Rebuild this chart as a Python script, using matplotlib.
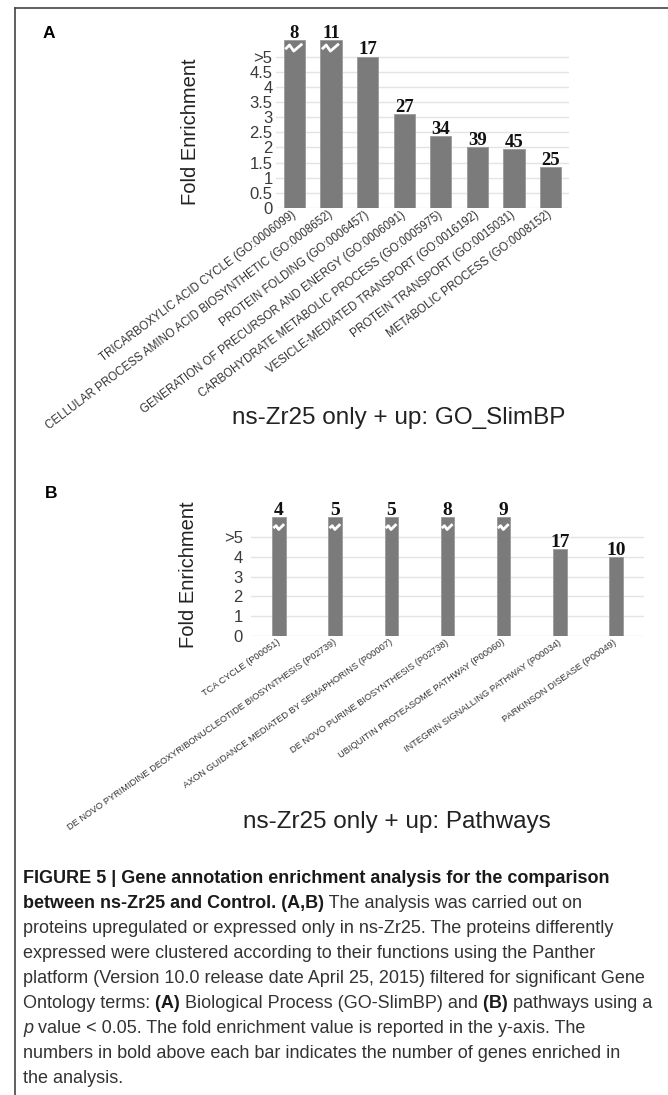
import matplotlib
matplotlib.use("Agg")
import matplotlib.pyplot as plt
from matplotlib.lines import Line2D

# ---- data ----
go_terms = [
    "TRICARBOXYLIC ACID CYCLE (GO:0006099)",
    "CELLULAR PROCESS AMINO ACID BIOSYNTHETIC (GO:0008652)",
    "PROTEIN FOLDING (GO:0006457)",
    "GENERATION OF PRECURSOR AND ENERGY (GO:0006091)",
    "CARBOHYDRATE METABOLIC PROCESS (GO:0005975)",
    "VESICLE-MEDIATED TRANSPORT (GO:0016192)",
    "PROTEIN TRANSPORT (GO:0015031)",
    "METABOLIC PROCESS (GO:0008152)",
]
go_fold = [5.55, 5.55, 5.0, 3.1, 2.38, 2.02, 1.95, 1.34]
go_genes = [8, 11, 17, 27, 34, 39, 45, 25]
go_broken = [True, True, False, False, False, False, False, False]
go_ticks = [0, 0.5, 1, 1.5, 2, 2.5, 3, 3.5, 4, 4.5, 5]
go_ticklabels = ["0", "0.5", "1", "1.5", "2", "2.5", "3", "3.5", "4", "4.5", ">5"]

pw_terms = [
    "TCA CYCLE (P00051)",
    "DE NOVO PYRIMIDINE DEOXYRIBONUCLEOTIDE BIOSYNTHESIS (P02739)",
    "AXON GUIDANCE MEDIATED BY SEMAPHORINS (P00007)",
    "DE NOVO PURINE BIOSYNTHESIS (P02738)",
    "UBIQUITIN PROTEASOME PATHWAY (P00060)",
    "INTEGRIN SIGNALLING PATHWAY (P00034)",
    "PARKINSON DISEASE (P00049)",
]
pw_fold = [6.0, 6.0, 6.0, 6.0, 6.0, 4.4, 4.0]
pw_genes = [4, 5, 5, 8, 9, 17, 10]
pw_broken = [True, True, True, True, True, False, False]
pw_ticks = [0, 1, 2, 3, 4, 5]
pw_ticklabels = ["0", "1", "2", "3", "4", ">5"]

caption = [
    [("FIGURE 5 | Gene annotation enrichment analysis for the comparison", "bold")],
    [("between ns-Zr25 and Control. (A,B)", "bold"), (" The analysis was carried out on", "normal")],
    [("proteins upregulated or expressed only in ns-Zr25. The proteins differently", "normal")],
    [("expressed were clustered according to their functions using the Panther", "normal")],
    [("platform (Version 10.0 release date April 25, 2015) filtered for significant Gene", "normal")],
    [("Ontology terms:", "normal"), (" (A)", "bold"), (" Biological Process (GO-SlimBP) and", "normal"),
     (" (B)", "bold"), (" pathways using a", "normal")],
    [("p", "italic"), (" value < 0.05. The fold enrichment value is reported in the y-axis. The", "normal")],
    [("numbers in bold above each bar indicates the number of genes enriched in", "normal")],
    [("the analysis.", "normal")],
]

plt.rcParams["font.family"] = ["Liberation Sans", "DejaVu Sans"]

W, H = 668, 1095
fig = plt.figure(figsize=(W / 100, H / 100), dpi=100)
BAR = "#7b7b7b"


def px_axes(x0, x1, y_top, y_bot):
    return fig.add_axes([x0 / W, 1 - y_bot / H, (x1 - x0) / W, (y_bot - y_top) / H])


def panel(ax, terms, fold, genes, broken, ticks, ticklabels, ymax, width,
          rot, xfs, pad, zig, cnt_fs):
    x = list(range(len(terms)))
    ax.bar(x, fold, width=width, color=BAR, edgecolor="#9a9a9a", linewidth=0.6, zorder=2)
    ax.set_xlim(-0.5, len(terms) - 0.5)
    ax.set_ylim(0, ymax)
    ax.set_yticks(ticks, ticklabels)
    ax.grid(axis="y", color="#e4e4e4", linewidth=1.0, zorder=0)
    ax.set_axisbelow(True)
    for s in ax.spines.values():
        s.set_visible(False)
    ax.tick_params(axis="both", length=0)
    ax.tick_params(axis="y", labelsize=12, labelcolor="#3a3a3a", pad=pad)
    ax.set_xticks(x, terms, rotation=rot, ha="right", va="center",
                  rotation_mode="anchor", fontsize=xfs, color="#333333")
    ax.tick_params(axis="x", pad=4)
    # number of genes above each bar
    for xi, h, g in zip(x, fold, genes):
        ax.annotate(str(g), (xi, h), xytext=(0, 1.6), textcoords="offset points",
                    ha="center", va="baseline", fontsize=cnt_fs, fontweight="bold",
                    family="Liberation Serif", color="#111111")
    # white break marks on the truncated bars
    for xi, b in zip(x, broken):
        if b:
            hw = width / 2
            ax.plot([xi - 0.85 * hw, xi - 0.45 * hw, xi - 0.05 * hw, xi + 0.75 * hw],
                    [zig[0], zig[1], zig[2], zig[3]],
                    color="white", linewidth=2.0, zorder=3, solid_capstyle="butt")


# panel A
axA = px_axes(276, 569, 208 - 5.6 * 30.3, 208)
panel(axA, go_terms, go_fold, go_genes, go_broken, go_ticks, go_ticklabels, 5.6, 0.58,
      37, 8.3, 2.5, [5.24, 5.38, 5.18, 5.42], 13.5)
axA.set_ylabel("Fold Enrichment", fontsize=14.5, color="#222222")
axA.yaxis.set_label_coords((200 - 276) / 293, (208 - 132) / (5.6 * 30.3))

# panel B
axB = px_axes(251, 644, 636 - 6.1 * 19.8, 636)
panel(axB, pw_terms, pw_fold, pw_genes, pw_broken, pw_ticks, pw_ticklabels, 6.1, 0.24,
      35, 6.7, 6.0, [5.45, 5.57, 5.38, 5.65], 14)
axB.set_ylabel("Fold Enrichment", fontsize=14.5, color="#222222")
axB.yaxis.set_label_coords((198 - 251) / 393, (636 - 575) / (6.1 * 19.8))

# panel letters and subtitles
fig.text(43 / W, 1 - 34 / H, "A", fontsize=12.5, fontweight="bold", va="center", ha="left")
fig.text(45 / W, 1 - 493 / H, "B", fontsize=12.5, fontweight="bold", va="center", ha="left")
fig.text(399 / W, 1 - 418 / H, "ns-Zr25 only + up: GO_SlimBP", fontsize=17.5,
         ha="center", va="center", color="#222222")
fig.text(397 / W, 1 - 822 / H, "ns-Zr25 only + up: Pathways", fontsize=17.5,
         ha="center", va="center", color="#222222")

# frame (top and left edges)
fig.add_artist(Line2D([15 / W, 1], [1 - 8 / H, 1 - 8 / H], color="#444444", linewidth=1.2))
fig.add_artist(Line2D([15 / W, 15 / W], [0, 1 - 8 / H], color="#444444", linewidth=1.2))

# caption, drawn run by run so bold/italic pieces sit inline
cap_family = ["Liberation Sans Narrow", "Liberation Sans"]
renderer = fig.canvas.get_renderer()
probe = fig.text(0, 0, caption[4][0][0], fontsize=10, family=cap_family)
w10 = probe.get_window_extent(renderer).width
probe.remove()
cap_fs = 10 * 622 / w10

x0 = 23
for i, line in enumerate(caption):
    yb = 883 + 25 * i
    x = x0
    for txt, style in line:
        t = fig.text(x / W, 1 - yb / H, txt, fontsize=cap_fs, family=cap_family,
                     fontweight="bold" if style == "bold" else "normal",
                     fontstyle="italic" if style == "italic" else "normal",
                     color="#1a1a1a" if style == "bold" else "#333333",
                     ha="left", va="baseline")
        x += t.get_window_extent(renderer).width

fig.savefig("out.png", dpi=100)
